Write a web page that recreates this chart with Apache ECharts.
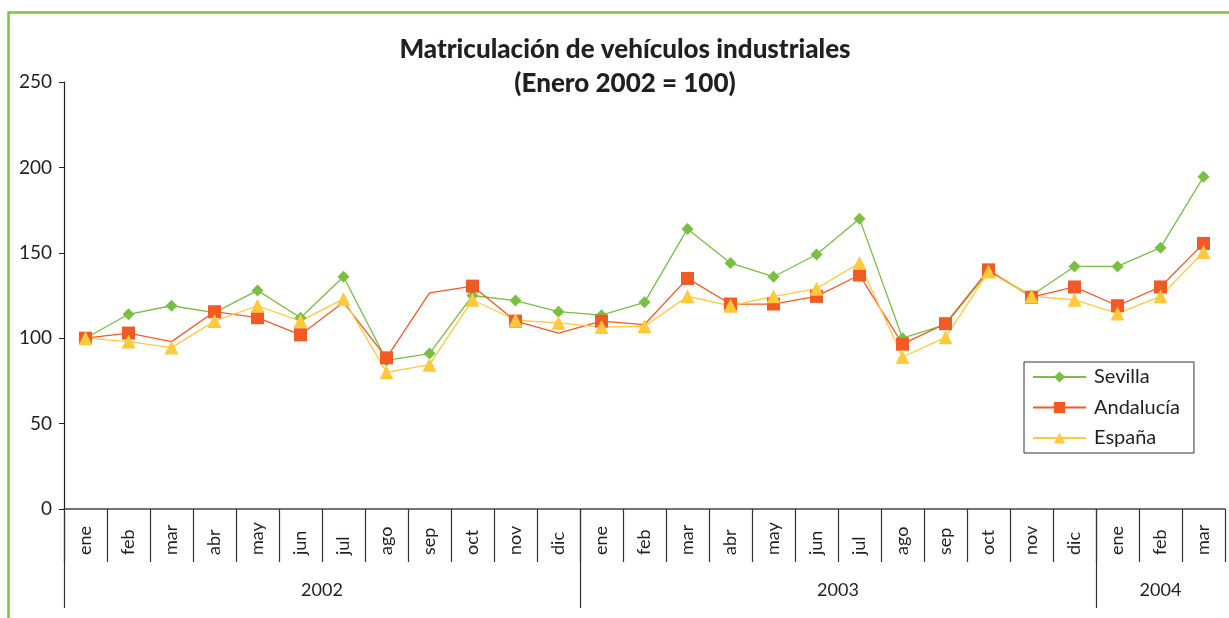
<!DOCTYPE html>
<html>
<head>
<meta charset="utf-8">
<title>Matriculación de vehículos industriales</title>
<script src="https://cdn.jsdelivr.net/npm/echarts@6/dist/echarts.min.js"></script>
<style>
  html, body { margin: 0; padding: 0; background: #fff; }
  #chart { width: 1229px; height: 618px; }
</style>
</head>
<body>
<div id="chart"></div>
<script>
// meses (ene 2002 - mar 2004)
const months = [
  "ene", "feb", "mar", "abr", "may", "jun", "jul", "ago", "sep", "oct", "nov", "dic",
  "ene", "feb", "mar", "abr", "may", "jun", "jul", "ago", "sep", "oct", "nov", "dic",
  "ene", "feb", "mar",
];
const years = ["2002", "2003", "2004"];
const monthsPerYear = [12, 12, 3];

const sevilla = [
  100, 114, 119, 115, 128, 112, 136, 87, 91, 125, 122, 115.5,
  113.5, 121, 164, 144, 136, 149, 170, 100, 108, 139, 125, 142,
  142, 153, 194.5,
];
const andalucia = [
  100, 103, 98, 115.5, 112, 102, 121, 88.5, 126.5, 130.5, 110, 103,
  110, 108, 135, 120, 120, 124.5, 137, 96.5, 108.5, 140, 124, 130,
  119, 130, 155.5,
];
const espana = [
  100, 98, 94.5, 110, 119, 110, 123, 80, 84.5, 122.5, 110.5, 109,
  106.5, 107, 124.5, 119, 124.5, 129, 144, 89, 100.5, 139, 124.5, 122.5,
  114.5, 124.5, 150.5,
];
// puntos de Andalucía que en el original no llevan marcador
const andaluciaNoMarker = [2, 6, 8, 11, 13];

const yAxisTicks = [0, 50, 100, 150, 200, 250];

// límites y centros de cada año sobre el eje de meses
let yearBounds = [0];
let yearCenters = [];
monthsPerYear.forEach((n) => {
  let start = yearBounds[yearBounds.length - 1];
  yearCenters.push(start + n / 2);
  yearBounds.push(start + n);
});

const fontFamily = "Lato, 'DejaVu Sans', sans-serif";

var chart = echarts.init(document.getElementById("chart"));

let option = {
  animation: false,
  textStyle: { fontFamily: fontFamily },
  graphic: [
    {
      type: "rect",
      shape: { x: 8.5, y: 12.5, width: 1400, height: 800 },
      style: { fill: "none", stroke: "#7dc242", lineWidth: 2.5 },
      silent: true,
    },
  ],
  title: {
    text: "Matriculación de vehículos industriales\n(Enero 2002 = 100)",
    left: 620,
    top: 28,
    textAlign: "center",
    textStyle: {
      fontFamily: fontFamily,
      fontSize: 26,
      fontWeight: 900,
      color: "#231f20",
      lineHeight: 34,
    },
  },
  legend: {
    orient: "vertical",
    left: 1024,
    top: 362,
    data: ["Sevilla", "Andalucía", "España"],
    itemWidth: 53,
    itemHeight: 14,
    itemGap: 10.5,
    padding: [5, 14, 5, 8],
    borderColor: "#333",
    borderWidth: 1,
    backgroundColor: "#fff",
    textStyle: { fontFamily: fontFamily, fontSize: 20, color: "#231f20", padding: [0, 0, 0, 3] },
  },
  grid: {
    left: 64,
    right: 4,
    top: 82,
    bottom: 109,
    containLabel: false,
  },
  xAxis: [
    {
      type: "category",
      data: months,
      boundaryGap: true,
      axisLine: { show: true, lineStyle: { color: "#444", width: 1.5 } },
      axisTick: { show: true, interval: 0, length: 53, lineStyle: { color: "#333", width: 1.2 } },
      axisLabel: {
        interval: 0,
        rotate: 90,
        align: "left",
        verticalAlign: "middle",
        margin: 46,
        fontSize: 18,
        color: "#231f20",
        fontFamily: fontFamily,
      },
      splitLine: { show: false },
    },
    {
      type: "value",
      min: 0,
      max: months.length,
      position: "bottom",
      axisLine: { show: false },
      axisTick: {
        show: true,
        customValues: yearBounds.slice(0, years.length),
        length: 99,
        lineStyle: { color: "#333", width: 1.2 },
      },
      axisLabel: {
        customValues: yearCenters,
        formatter: (v) => years[yearCenters.indexOf(v)] || "",
        margin: 72,
        fontSize: 18,
        color: "#231f20",
        fontFamily: fontFamily,
      },
      splitLine: { show: false },
    },
  ],
  yAxis: {
    type: "value",
    min: yAxisTicks[0],
    max: yAxisTicks[yAxisTicks.length - 1],
    interval: 50,
    axisLine: { show: true, lineStyle: { color: "#231f20", width: 1.2 } },
    axisTick: { show: true, length: 5, lineStyle: { color: "#231f20" } },
    axisLabel: { fontSize: 19, color: "#231f20", margin: 12, fontFamily: fontFamily },
    splitLine: { show: false },
  },
  series: [
    {
      name: "Sevilla",
      type: "line",
      xAxisIndex: 0,
      data: sevilla,
      color: "#78bf42",
      symbol: "diamond",
      symbolSize: 12,
      lineStyle: { width: 1.3 },
    },
    {
      name: "Andalucía",
      type: "line",
      xAxisIndex: 0,
      data: andalucia.map((v, i) =>
        andaluciaNoMarker.includes(i) ? { value: v, symbol: "none" } : v
      ),
      color: "#f15a24",
      symbol: "rect",
      symbolSize: 13,
      lineStyle: { width: 1.3 },
    },
    {
      name: "España",
      type: "line",
      xAxisIndex: 0,
      data: espana,
      color: "#ffc93c",
      symbol: "triangle",
      symbolSize: 14,
      lineStyle: { width: 1.3 },
    },
  ],
};

chart.setOption(option);
</script>
</body>
</html>
